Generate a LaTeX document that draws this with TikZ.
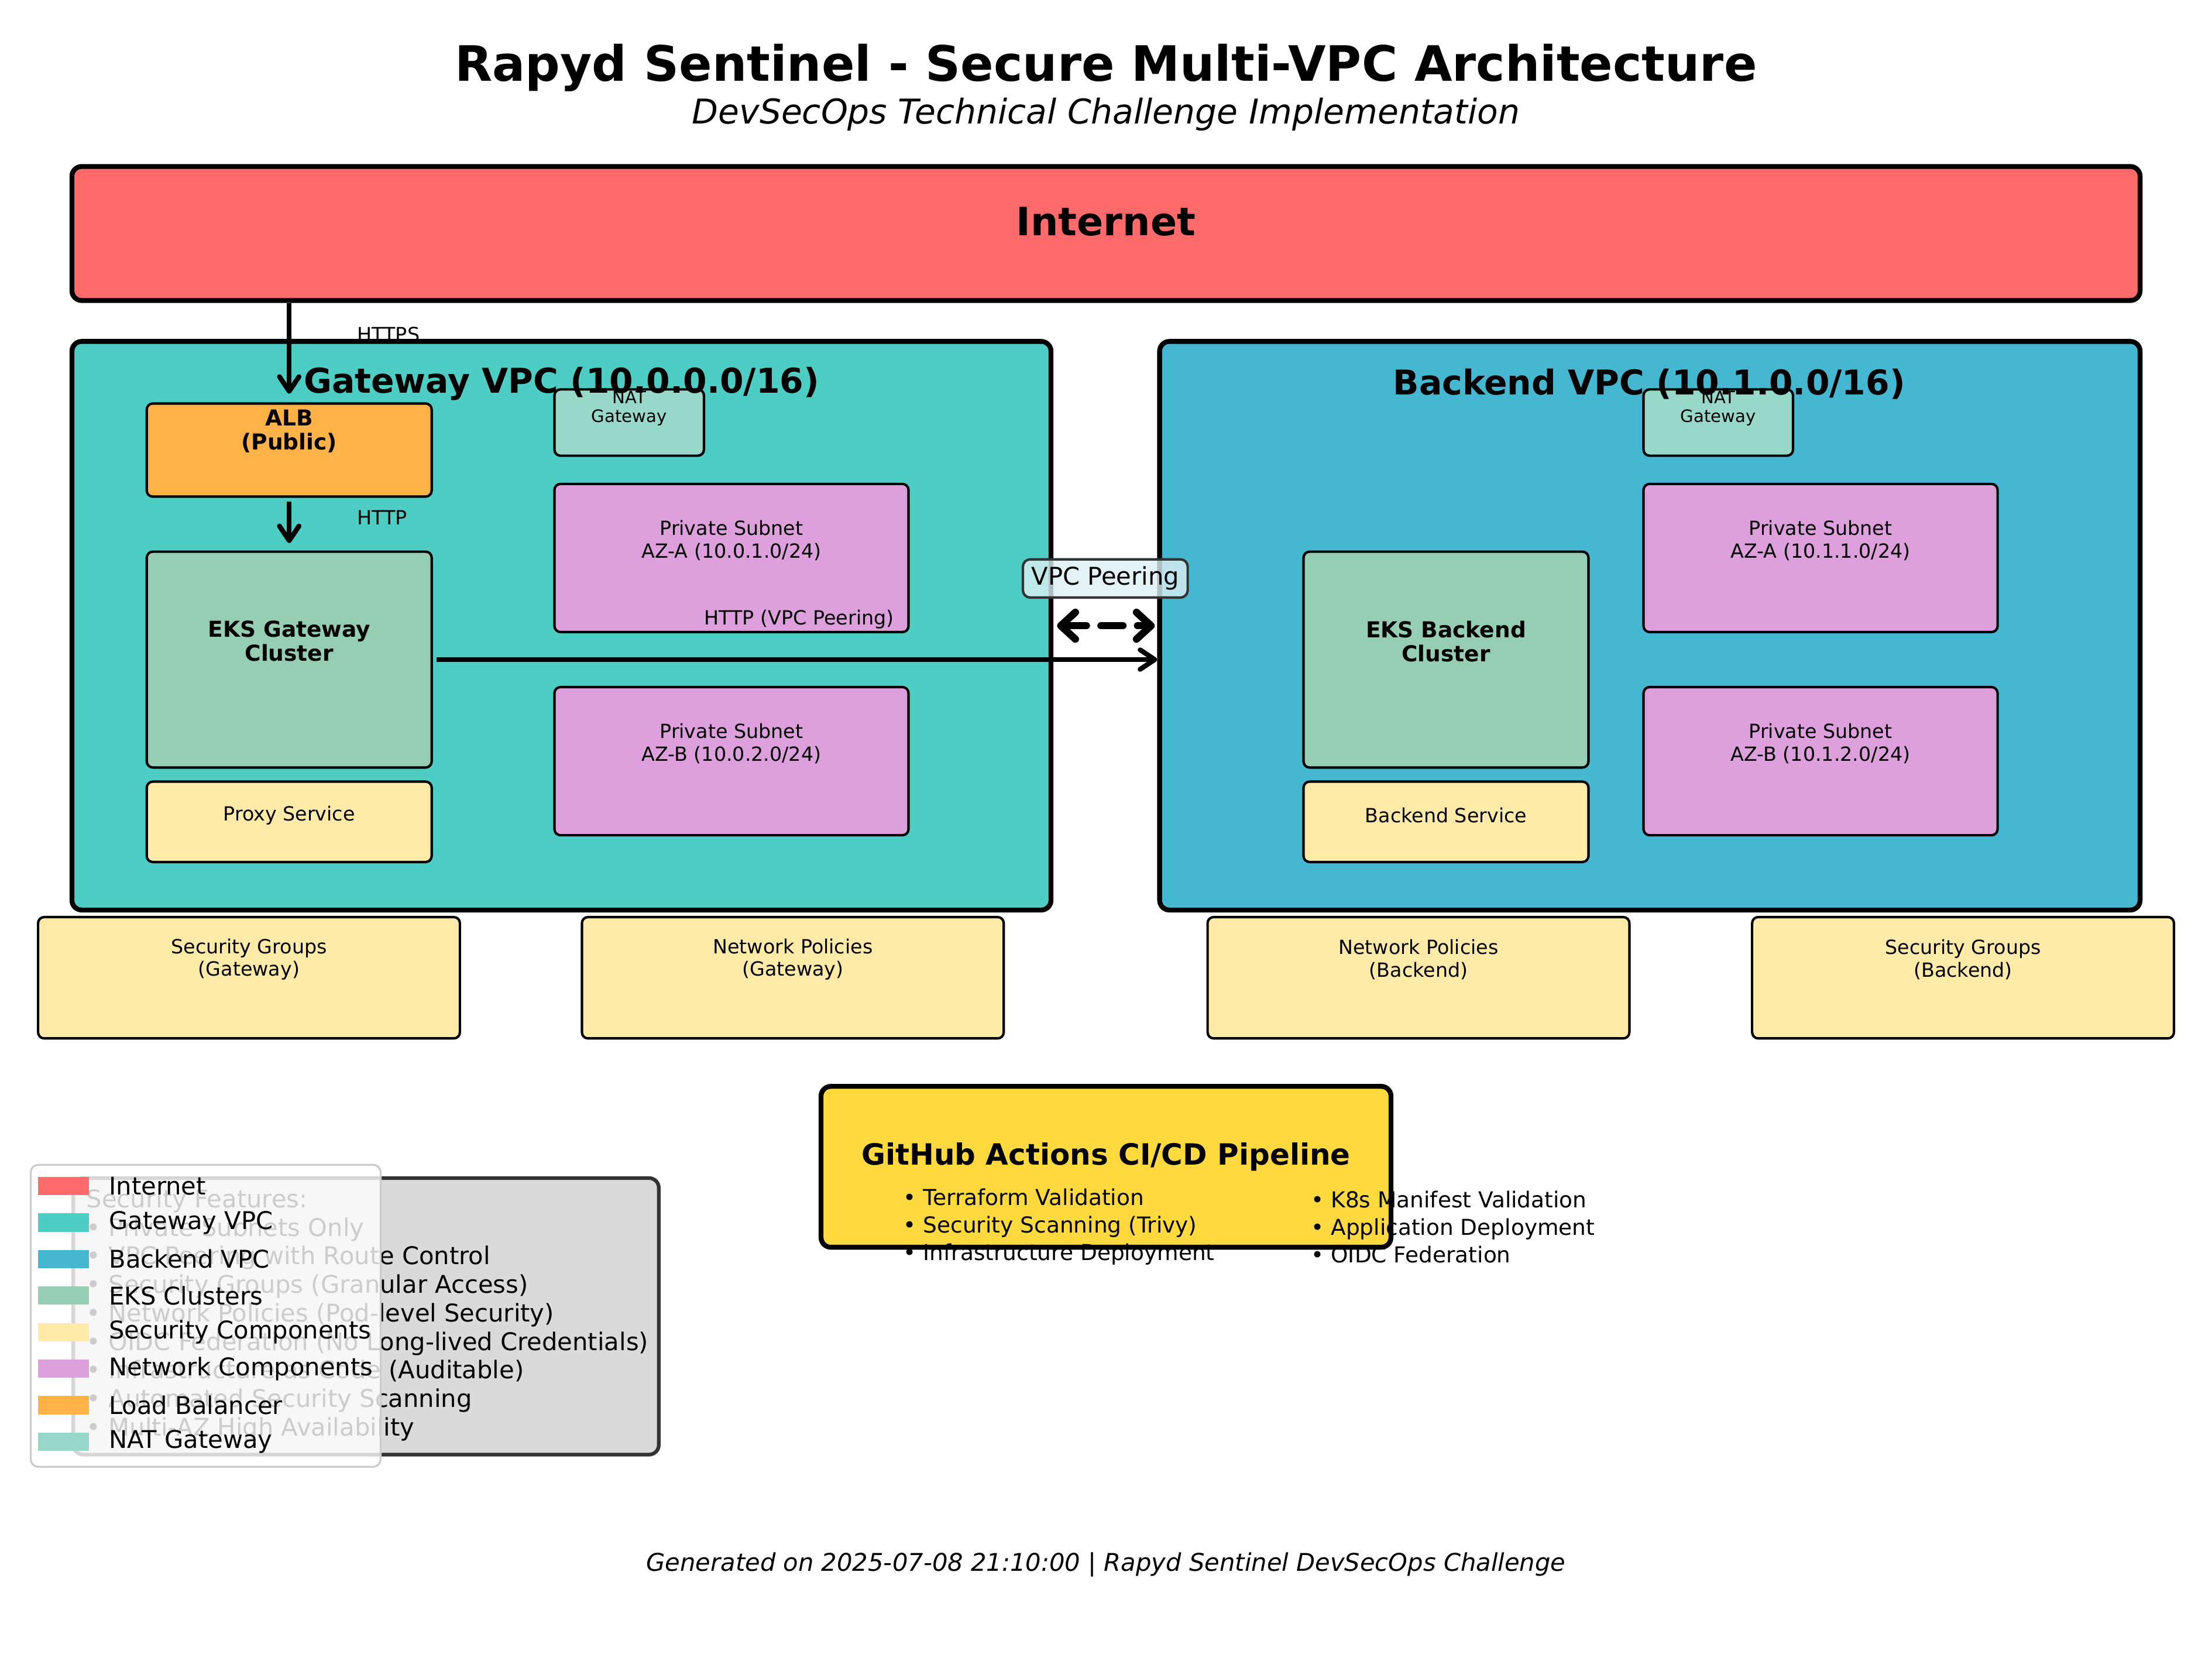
\documentclass[tikz,border=0pt]{standalone}
\usepackage{fontspec}
\setmainfont{DejaVu Sans}
\usepackage{tikz}
\usetikzlibrary{arrows.meta}
\definecolor{internetred}{HTML}{FF6B6B}
\definecolor{gatewayteal}{HTML}{4ECDC4}
\definecolor{backendblue}{HTML}{45B7D1}
\definecolor{eksgreen}{HTML}{96CEB4}
\definecolor{secyellow}{HTML}{FFEAA7}
\definecolor{netpink}{HTML}{DDA0DD}
\definecolor{lborange}{HTML}{FFB347}
\definecolor{natgreen}{HTML}{98D8C8}
\definecolor{pipegold}{HTML}{FFD93D}
\definecolor{featgray}{HTML}{DADADA}
\definecolor{peercyan}{HTML}{DCEFF4}
\tikzset{
  wh/.style 2 args={minimum width=#1*0.5786pt, minimum height=#2*0.5786pt},
  bigbox/.style={draw=black, line width=2pt, rounded corners=4pt, inner sep=0pt},
  box/.style={draw=black, line width=1pt, rounded corners=2.5pt, inner sep=0pt},
  featbox/.style={draw=black!80, line width=1.5pt, rounded corners=4pt, fill=featgray, inner sep=0pt},
  legbox/.style={draw=black!20, line width=0.8pt, rounded corners=3pt, fill=white, fill opacity=0.8, inner sep=0pt},
  legpatch/.style={inner sep=0pt, wh={36}{13}},
  txt/.style={inner sep=0pt, align=center},
  ttl/.style={txt, font=\fontsize{20}{24}\selectfont\bfseries},
  subttl/.style={txt, font=\fontsize{14}{17}\selectfont\itshape},
  vpcttl/.style={txt, font=\fontsize{14}{17}\selectfont\bfseries},
  bigttl/.style={txt, font=\fontsize{16}{19}\selectfont\bfseries},
  boxttl/.style={txt, font=\fontsize{9}{9.9}\selectfont\bfseries},
  lbl/.style={txt, font=\fontsize{8}{9.3}\selectfont},
  tinylbl/.style={txt, font=\fontsize{7}{7.5}\selectfont},
  pipettl/.style={txt, font=\fontsize{12}{14}\selectfont\bfseries},
  pipeitem/.style={inner sep=0pt, align=left, font=\fontsize{9}{11.3}\selectfont},
  featitem/.style={inner sep=0pt, align=left, font=\fontsize{10}{11.7}\selectfont},
  legtxt/.style={inner sep=0pt, anchor=west, font=\fontsize{10}{12}\selectfont},
  foot/.style={txt, font=\fontsize{10}{12}\selectfont\itshape},
  flow/.style={line width=2pt, -{Straight Barb[length=6pt,width=8pt,round]}},
  peer/.style={line width=3pt, line cap=round, dash pattern=on 9pt off 6pt,
    {Straight Barb[length=6pt,width=11pt,round]}-{Straight Barb[length=6pt,width=11pt,round]}},
  peerlbl/.style={draw=black!80, line width=1pt, rounded corners=3pt, fill=peercyan, fill opacity=0.8,
    text opacity=1, inner xsep=3.5pt, inner ysep=3pt, font=\fontsize{10}{12}\selectfont}
}
\begin{document}
\begin{tikzpicture}[x=0.5786pt, y=-0.5786pt]
                \useasboundingbox (0,0) rectangle (1568,1175);
                \node[bigbox, fill=internetred, wh={1466}{95}] (internet) at (784,165.5) {};
                \node[bigbox, fill=gatewayteal, wh={694}{403}] (gwvpc) at (398,443.5) {};
                \node[bigbox, fill=backendblue, wh={695}{403}] (bevpc) at (1169.5,443.5) {};

                \node[box, fill=lborange, wh={202}{66}] (alb) at (205,319) {};
                \node[box, fill=eksgreen, wh={202}{153}] (gweks) at (205,467.5) {};
                \node[box, fill=secyellow, wh={202}{57}] (proxy) at (205,582.5) {};
                \node[box, fill=natgreen, wh={106}{47}] (gwnat) at (446,299.5) {};
                \node[box, fill=netpink, wh={251}{105}] (gwsuba) at (518.5,395.5) {};
                \node[box, fill=netpink, wh={251}{105}] (gwsubb) at (518.5,539.5) {};

                \node[box, fill=eksgreen, wh={202}{153}] (beeks) at (1025,467.5) {};
                \node[box, fill=secyellow, wh={202}{57}] (besvc) at (1025,582.5) {};
                \node[box, fill=natgreen, wh={106}{47}] (benat) at (1218,299.5) {};
                \node[box, fill=netpink, wh={251}{105}] (besuba) at (1290.5,395.5) {};
                \node[box, fill=netpink, wh={251}{105}] (besubb) at (1290.5,539.5) {};

                \node[box, fill=secyellow, wh={299}{86}] (gwsg) at (176.5,693) {};
                \node[box, fill=secyellow, wh={299}{86}] (gwnp) at (562,693) {};
                \node[box, fill=secyellow, wh={299}{86}] (benp) at (1005.5,693) {};
                \node[box, fill=secyellow, wh={299}{86}] (besg) at (1391.5,693) {};

                \node[bigbox, fill=pipegold, wh={404}{114}] (pipeline) at (784,827) {};
                \node[featbox, wh={415}{196}] (features) at (259.5,933) {};

                \draw[flow, shorten >=3.5pt] (internet.south -| alb.north) -- (alb.north);
                \draw[flow, shorten <=1.5pt, shorten >=3pt] (alb.south) -- (gweks.north);
                \draw[flow, shorten <=1.5pt] (gweks.east) -- (gweks.east -| bevpc.west);
                \draw[peer, shorten <=1.5pt, shorten >=1pt] (gwvpc.east) -- (bevpc.west);
                \node[peerlbl] (peering) at (783.5,410) {VPC Peering};

                \node[ttl] (title) at (784,48) {Rapyd Sentinel - Secure Multi-VPC Architecture};
                \node[subttl] (subtitle) at (784,81) {DevSecOps Technical Challenge Implementation};
                \node[bigttl] (internet-t) at (784,157) {Internet};
                \node[lbl, anchor=west] (https) at (253,237) {HTTPS};
                \node[lbl, anchor=west] (http) at (253,367) {HTTP};
                \node[lbl, anchor=east] (http-peer) at (634,439) {HTTP (VPC Peering)};

                \node[boxttl] (alb-t) at (205,305.5) {ALB\\(Public)};
                \node[boxttl] (gweks-t) at (205,454.5) {EKS Gateway\\Cluster};
                \node[lbl] (proxy-t) at (205,578) {Proxy Service};
                \node[tinylbl] (gwnat-t) at (446,289.5) {NAT\\Gateway};
                \node[lbl] (gwsuba-t) at (518.5,383) {Private Subnet\\AZ-A (10.0.1.0/24)};
                \node[lbl] (gwsubb-t) at (518.5,527) {Private Subnet\\AZ-B (10.0.2.0/24)};
                \node[vpcttl] (gwvpc-t) at (398,272) {Gateway VPC (10.0.0.0/16)};

                \node[boxttl] (beeks-t) at (1025,454.5) {EKS Backend\\Cluster};
                \node[lbl] (besvc-t) at (1025,578) {Backend Service};
                \node[tinylbl] (benat-t) at (1218,289.5) {NAT\\Gateway};
                \node[lbl] (besuba-t) at (1290.5,383) {Private Subnet\\AZ-A (10.1.1.0/24)};
                \node[lbl] (besubb-t) at (1290.5,527) {Private Subnet\\AZ-B (10.1.2.0/24)};
                \node[vpcttl] (bevpc-t) at (1169,272) {Backend VPC (10.1.0.0/16)};

                \node[lbl] (gwsg-t) at (176.5,680) {Security Groups\\(Gateway)};
                \node[lbl] (gwnp-t) at (562,680) {Network Policies\\(Gateway)};
                \node[lbl] (benp-t) at (1005.5,680) {Network Policies\\(Backend)};
                \node[lbl] (besg-t) at (1391.5,680) {Security Groups\\(Backend)};

                \node[pipettl] (pipeline-t) at (784,820) {GitHub Actions CI/CD Pipeline};
                \node[pipeitem, anchor=west] (pipe-l) at (640,869.5) {• Terraform Validation\\• Security Scanning (Trivy)\\• Infrastructure Deployment};
                \node[pipeitem, anchor=west] (pipe-r) at (929,869.5) {• K8s Manifest Validation\\• Application Deployment\\• OIDC Federation};

                \node[featitem, anchor=west] (features-t) at (61,932) {Security Features:\\• Private Subnets Only\\• VPC Peering with Route Control\\• Security Groups (Granular Access)\\• Network Policies (Pod-level Security)\\• OIDC Federation (No Long-lived Credentials)\\• Infrastructure as Code (Auditable)\\• Automated Security Scanning\\• Multi-AZ High Availability};

                \node[legbox, wh={248}{214}] (legend) at (145.8,932.6) {};
                \node[legpatch, fill=internetred] (leg1) at (45,840.6) {};
                \node[legpatch, fill=gatewayteal] (leg2) at (45,866.5) {};
                \node[legpatch, fill=backendblue] (leg3) at (45,892.4) {};
                \node[legpatch, fill=eksgreen] (leg4) at (45,918.3) {};
                \node[legpatch, fill=secyellow] (leg5) at (45,944.2) {};
                \node[legpatch, fill=netpink] (leg6) at (45,970.1) {};
                \node[legpatch, fill=lborange] (leg7) at (45,996) {};
                \node[legpatch, fill=natgreen] (leg8) at (45,1021.9) {};
                \node[legtxt] (leg1-t) at (77,840.6) {Internet};
                \node[legtxt] (leg2-t) at (77,866.5) {Gateway VPC};
                \node[legtxt] (leg3-t) at (77,892.4) {Backend VPC};
                \node[legtxt] (leg4-t) at (77,918.3) {EKS Clusters};
                \node[legtxt] (leg5-t) at (77,944.2) {Security Components};
                \node[legtxt] (leg6-t) at (77,970.1) {Network Components};
                \node[legtxt] (leg7-t) at (77,996) {Load Balancer};
                \node[legtxt] (leg8-t) at (77,1021.9) {NAT Gateway};

                \node[foot] (footer) at (784,1109) {Generated on 2025-07-08 21:10:00 | Rapyd Sentinel DevSecOps Challenge};
            \end{tikzpicture}
\end{document}
